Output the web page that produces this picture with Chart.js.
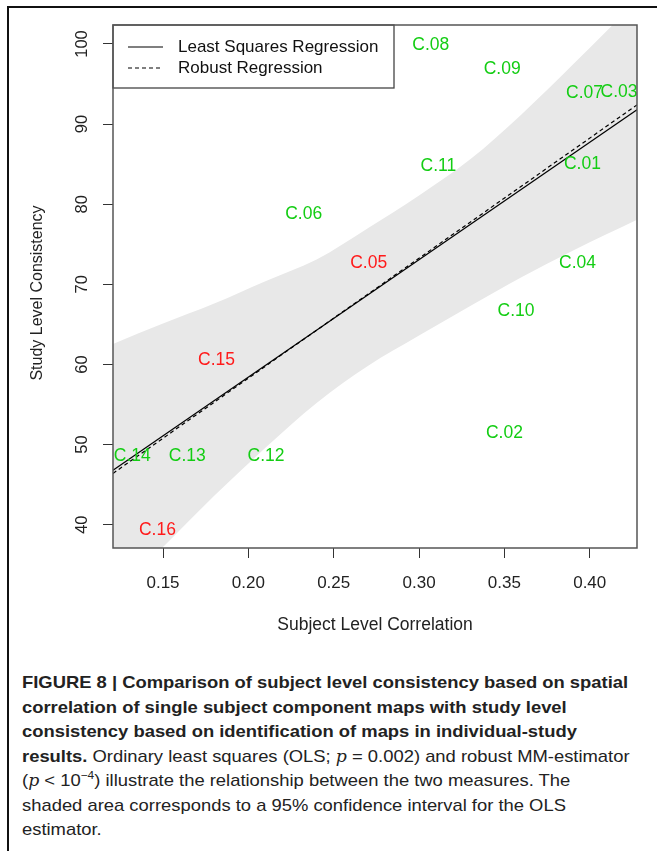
<!DOCTYPE html>
<html>
<head>
<meta charset="utf-8">
<script src="https://cdn.jsdelivr.net/npm/chart.js@4.4.1/dist/chart.umd.min.js"></script>
<style>
html, body { margin: 0; padding: 0; background: #fff; }
body { width: 657px; height: 851px; position: relative; overflow: hidden; font-family: "Liberation Sans", Arial, sans-serif; }
#frameTop { position: absolute; left: 7px; top: 6px; width: 650px; height: 2px; background: #111; }
#frameLeft { position: absolute; left: 7px; top: 6px; width: 2px; height: 845px; background: #111; }
#chart { position: absolute; left: 0; top: 0; }
#caption { position: absolute; left: 22px; top: 671px; color: #222; font-size: 17px; }
.ln { white-space: nowrap; height: 24.5px; line-height: 24.5px; transform-origin: 0 50%; }
.ln b { font-weight: bold; }
.ln i { font-style: italic; font-family: "DejaVu Serif", serif; font-size: 16px; }
.ln sup { font-size: 11px; line-height: 0; }
</style>
</head>
<body>
<div id="frameTop"></div>
<div id="frameLeft"></div>
<canvas id="chart" width="657" height="650"></canvas>
<div id="caption">
  <div class="ln"><b>FIGURE 8 | Comparison of subject level consistency based on spatial</b></div>
  <div class="ln"><b>correlation of single subject component maps with study level</b></div>
  <div class="ln"><b>consistency based on identification of maps in individual-study</b></div>
  <div class="ln"><b>results.</b> Ordinary least squares (OLS; <i>p</i> = 0.002) and robust MM-estimator</div>
  <div class="ln">(<i>p</i> &lt; 10<sup>−4</sup>) illustrate the relationship between the two measures. The</div>
  <div class="ln">shaded area corresponds to a 95% confidence interval for the OLS</div>
  <div class="ln">estimator.</div>
</div>
<script>
// components
const componentNames = ['C.01', 'C.02', 'C.03', 'C.04', 'C.05', 'C.06', 'C.07', 'C.08',
                        'C.09', 'C.10', 'C.11', 'C.12', 'C.13', 'C.14', 'C.15', 'C.16'];
const subjectCorr = [0.3957, 0.350, 0.4172, 0.3929, 0.2705, 0.2324, 0.3970, 0.3069,
                     0.3487, 0.3568, 0.3113, 0.2104, 0.1642, 0.1320, 0.1814, 0.1467];
const studyConsistency = [85.0, 51.4, 94.0, 72.6, 72.6, 78.7, 93.9, 99.9,
                          96.8, 66.6, 84.8, 48.5, 48.5, 48.5, 60.5, 39.3];
const componentGroup = ['ok', 'ok', 'ok', 'ok', 'flag', 'ok', 'ok', 'ok',
                        'ok', 'ok', 'ok', 'ok', 'ok', 'ok', 'flag', 'flag'];

// regression lines (end points) and 95% band for OLS
const olsX = [0.1207, 0.4277];
const olsY = [46.8, 91.8];
const robustX = [0.1207, 0.4277];
const robustY = [46.4, 92.4];
const bandX = [0.12, 0.15, 0.18, 0.21, 0.24, 0.27, 0.30, 0.33, 0.36, 0.39, 0.43];
const bandUpper = [62.5, 65.1, 67.6, 70.4, 73.1, 77.0, 81.1, 85.6, 91.2, 97.4, 105.9];
const bandLower = [31.0, 37.2, 43.6, 49.6, 55.2, 59.8, 63.6, 67.3, 70.9, 74.2, 78.3];

const xTicks = [0.15, 0.20, 0.25, 0.30, 0.35, 0.40];
const yTicks = [40, 50, 60, 70, 80, 90, 100];
const legendLabels = ['Least Squares Regression', 'Robust Regression'];

const groupColor = { ok: '#13cd13', flag: '#ff1a1a' };
const FONT = '"Liberation Sans", Arial, sans-serif';

const pts = (xs, ys) => xs.map((x, i) => ({ x: x, y: ys[i] }));

const decor = {
    id: 'decor',
    afterDatasetsDraw(chart) {
        const ctx = chart.ctx, xs = chart.scales.x, ys = chart.scales.y;
        ctx.save();
        ctx.font = '17.5px ' + FONT;
        ctx.textAlign = 'center';
        ctx.textBaseline = 'middle';
        componentNames.forEach((name, i) => {
            ctx.fillStyle = groupColor[componentGroup[i]];
            ctx.fillText(name, xs.getPixelForValue(subjectCorr[i]), ys.getPixelForValue(studyConsistency[i]));
        });
        ctx.restore();
    },
    afterDraw(chart) {
        const ctx = chart.ctx, a = chart.chartArea, xs = chart.scales.x, ys = chart.scales.y;
        ctx.save();

        // legend box
        const lx = a.left, ly = a.top, lw = 281, lh = 63;
        ctx.fillStyle = '#fff';
        ctx.fillRect(lx, ly, lw, lh);
        ctx.strokeStyle = '#444';
        ctx.lineWidth = 1.3;
        ctx.strokeRect(lx, ly, lw, lh);
        ctx.strokeStyle = '#000';
        ctx.lineWidth = 1.2;
        [47, 68].forEach((yy, i) => {
            ctx.setLineDash(i === 0 ? [] : [4, 3]);
            ctx.beginPath();
            ctx.moveTo(128, yy);
            ctx.lineTo(163, yy);
            ctx.stroke();
        });
        ctx.setLineDash([]);
        ctx.fillStyle = '#111';
        ctx.font = '17px ' + FONT;
        ctx.textAlign = 'left';
        ctx.textBaseline = 'middle';
        ctx.fillText(legendLabels[0], 178, 47);
        ctx.fillText(legendLabels[1], 178, 68);

        // plot box
        ctx.strokeStyle = '#555';
        ctx.lineWidth = 1.5;
        ctx.strokeRect(a.left, a.top, a.right - a.left, a.bottom - a.top);

        // x tick labels + title
        ctx.fillStyle = '#222';
        ctx.textAlign = 'center';
        xTicks.forEach(v => ctx.fillText(v.toFixed(2), xs.getPixelForValue(v), 583));
        ctx.font = '17.5px ' + FONT;
        ctx.fillText('Subject Level Correlation', (a.left + a.right) / 2, 625);

        // y tick labels (rotated, R style) + title
        ctx.font = '16.5px ' + FONT;
        yTicks.forEach(v => {
            ctx.save();
            ctx.translate(82, ys.getPixelForValue(v));
            ctx.rotate(-Math.PI / 2);
            ctx.fillText(String(v), 0, 0);
            ctx.restore();
        });
        ctx.font = '16px ' + FONT;
        ctx.save();
        ctx.translate(38, 293);
        ctx.rotate(-Math.PI / 2);
        ctx.fillText('Study Level Consistency', 0, 0);
        ctx.restore();

        ctx.restore();
    }
};

new Chart(document.getElementById('chart'), {
    type: 'line',
    data: {
        datasets: [
            {
                data: pts(olsX, olsY),
                borderColor: '#000', borderWidth: 1.2,
                pointRadius: 0, fill: false, order: 1
            },
            {
                data: pts(robustX, robustY),
                borderColor: '#000', borderWidth: 1.2, borderDash: [4, 3],
                pointRadius: 0, fill: false, order: 2
            },
            {
                data: pts(bandX, bandUpper),
                borderWidth: 0, borderColor: 'rgba(0,0,0,0)',
                backgroundColor: '#e8e8e8',
                pointRadius: 0, fill: '+1', cubicInterpolationMode: 'monotone', order: 10
            },
            {
                data: pts(bandX, bandLower),
                borderWidth: 0, borderColor: 'rgba(0,0,0,0)',
                pointRadius: 0, fill: false, cubicInterpolationMode: 'monotone', order: 11
            },
            {
                data: pts(subjectCorr, studyConsistency),
                showLine: false, pointRadius: 0, order: 0
            }
        ]
    },
    options: {
        responsive: false,
        animation: false,
        events: [],
        layout: { padding: { left: 0, right: 20, top: 25, bottom: 0 } },
        plugins: { legend: { display: false }, tooltip: { enabled: false } },
        scales: {
            x: {
                type: 'linear', min: 0.1207, max: 0.4277,
                afterBuildTicks: s => { s.ticks = xTicks.map(v => ({ value: v })); },
                afterFit: s => { s.height = 102; },
                ticks: { display: false },
                border: { display: false },
                grid: { drawOnChartArea: false, drawTicks: true, tickLength: 10, color: '#333', lineWidth: 1 }
            },
            y: {
                type: 'linear', min: 37.09, max: 102.37,
                afterBuildTicks: s => { s.ticks = yTicks.map(v => ({ value: v })); },
                afterFit: s => { s.width = 113; },
                ticks: { display: false },
                border: { display: false },
                grid: { drawOnChartArea: false, drawTicks: true, tickLength: 10, color: '#333', lineWidth: 1 }
            }
        }
    },
    plugins: [decor]
});

// condense caption lines like the journal's narrow face
const lines = document.querySelectorAll('#caption .ln');
const firstW = lines[0].scrollWidth;
const k = 608 / firstW;
lines.forEach(l => { l.style.transform = 'scaleX(' + k + ')'; });
</script>
</body>
</html>
